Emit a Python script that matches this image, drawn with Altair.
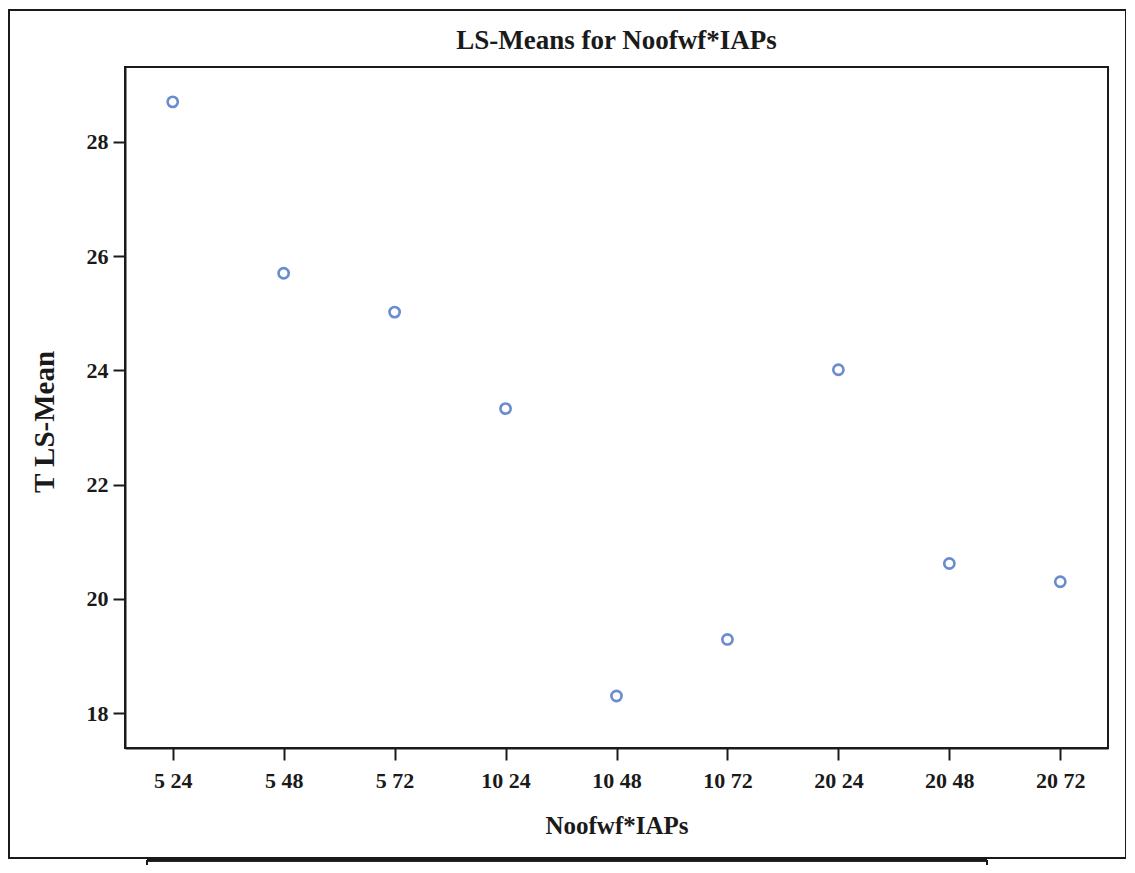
import altair as alt
import pandas as pd

categories = ["5 24", "5 48", "5 72", "10 24", "10 48", "10 72", "20 24", "20 48", "20 72"]
ls_means = [28.70, 25.70, 25.02, 23.33, 18.30, 19.29, 24.01, 20.62, 20.30]
y_ticks = [18, 20, 22, 24, 26, 28]
chart_title = "LS-Means for Noofwf*IAPs"
x_title = "Noofwf*IAPs"
y_title = "T LS-Mean"

df = pd.DataFrame({"cat": categories, "mean": ls_means})

FONT = "Liberation Serif"
W, H = 983, 681
INK = "#1a1a1a"

points = alt.Chart(df).mark_point(
    shape="circle", filled=False, size=105, strokeWidth=2.6, color="#2a5cba"
).encode(
    x=alt.X("cat:N", sort=categories,
            scale=alt.Scale(type="point", padding=0.43),
            axis=alt.Axis(title=x_title, labelAngle=0, tickSize=12,
                          labelPadding=10, titlePadding=22, titleFontSize=25)),
    y=alt.Y("mean:Q", scale=alt.Scale(domain=[17.39, 29.31], nice=False, zero=False),
            axis=alt.Axis(title=None, values=y_ticks, tickSize=12,
                          labelPadding=5, grid=False)),
)

title_text = alt.Chart(pd.DataFrame({"t": [chart_title]})).mark_text(
    font=FONT, fontSize=27, fontWeight="bold", color=INK, baseline="alphabetic",
    align="center", clip=False
).encode(text="t:N", x=alt.value(W / 2), y=alt.value(-18))

ytitle_text = alt.Chart(pd.DataFrame({"t": [y_title]})).mark_text(
    font=FONT, fontSize=29, fontWeight="bold", color=INK, baseline="middle",
    align="center", angle=270, clip=False
).encode(text="t:N", x=alt.value(-80), y=alt.value(355))

frame = alt.Chart(df).mark_rect(fill=None, stroke=INK, strokeWidth=2, clip=False).encode(
    x=alt.value(-116), x2=alt.value(1001), y=alt.value(-57), y2=alt.value(791)
)
lower_h = alt.Chart(df).mark_rule(color=INK, strokeWidth=2.5, clip=False).encode(
    x=alt.value(22), x2=alt.value(862), y=alt.value(793)
)
lower_l = alt.Chart(df).mark_rule(color=INK, strokeWidth=2, clip=False).encode(
    x=alt.value(22), y=alt.value(793), y2=alt.value(815)
)
lower_r = alt.Chart(df).mark_rule(color=INK, strokeWidth=2, clip=False).encode(
    x=alt.value(862), y=alt.value(793), y2=alt.value(815)
)

chart = alt.layer(frame, lower_h, lower_l, lower_r, title_text, ytitle_text, points).properties(
    width=W, height=H,
    autosize=alt.AutoSizeParams(type="none"),
    padding={"left": 117, "top": 59, "right": 18, "bottom": 117},
).configure_view(
    stroke=INK, strokeWidth=2
).configure_axis(
    domainColor=INK, domainWidth=2, tickColor=INK, tickWidth=2,
    labelFont=FONT, labelFontSize=22, labelFontWeight="bold", labelColor=INK,
    titleFont=FONT, titleFontWeight="bold", titleColor=INK,
    grid=False
)

chart.save("out.html", embed_options={"renderer": "svg", "actions": False})
